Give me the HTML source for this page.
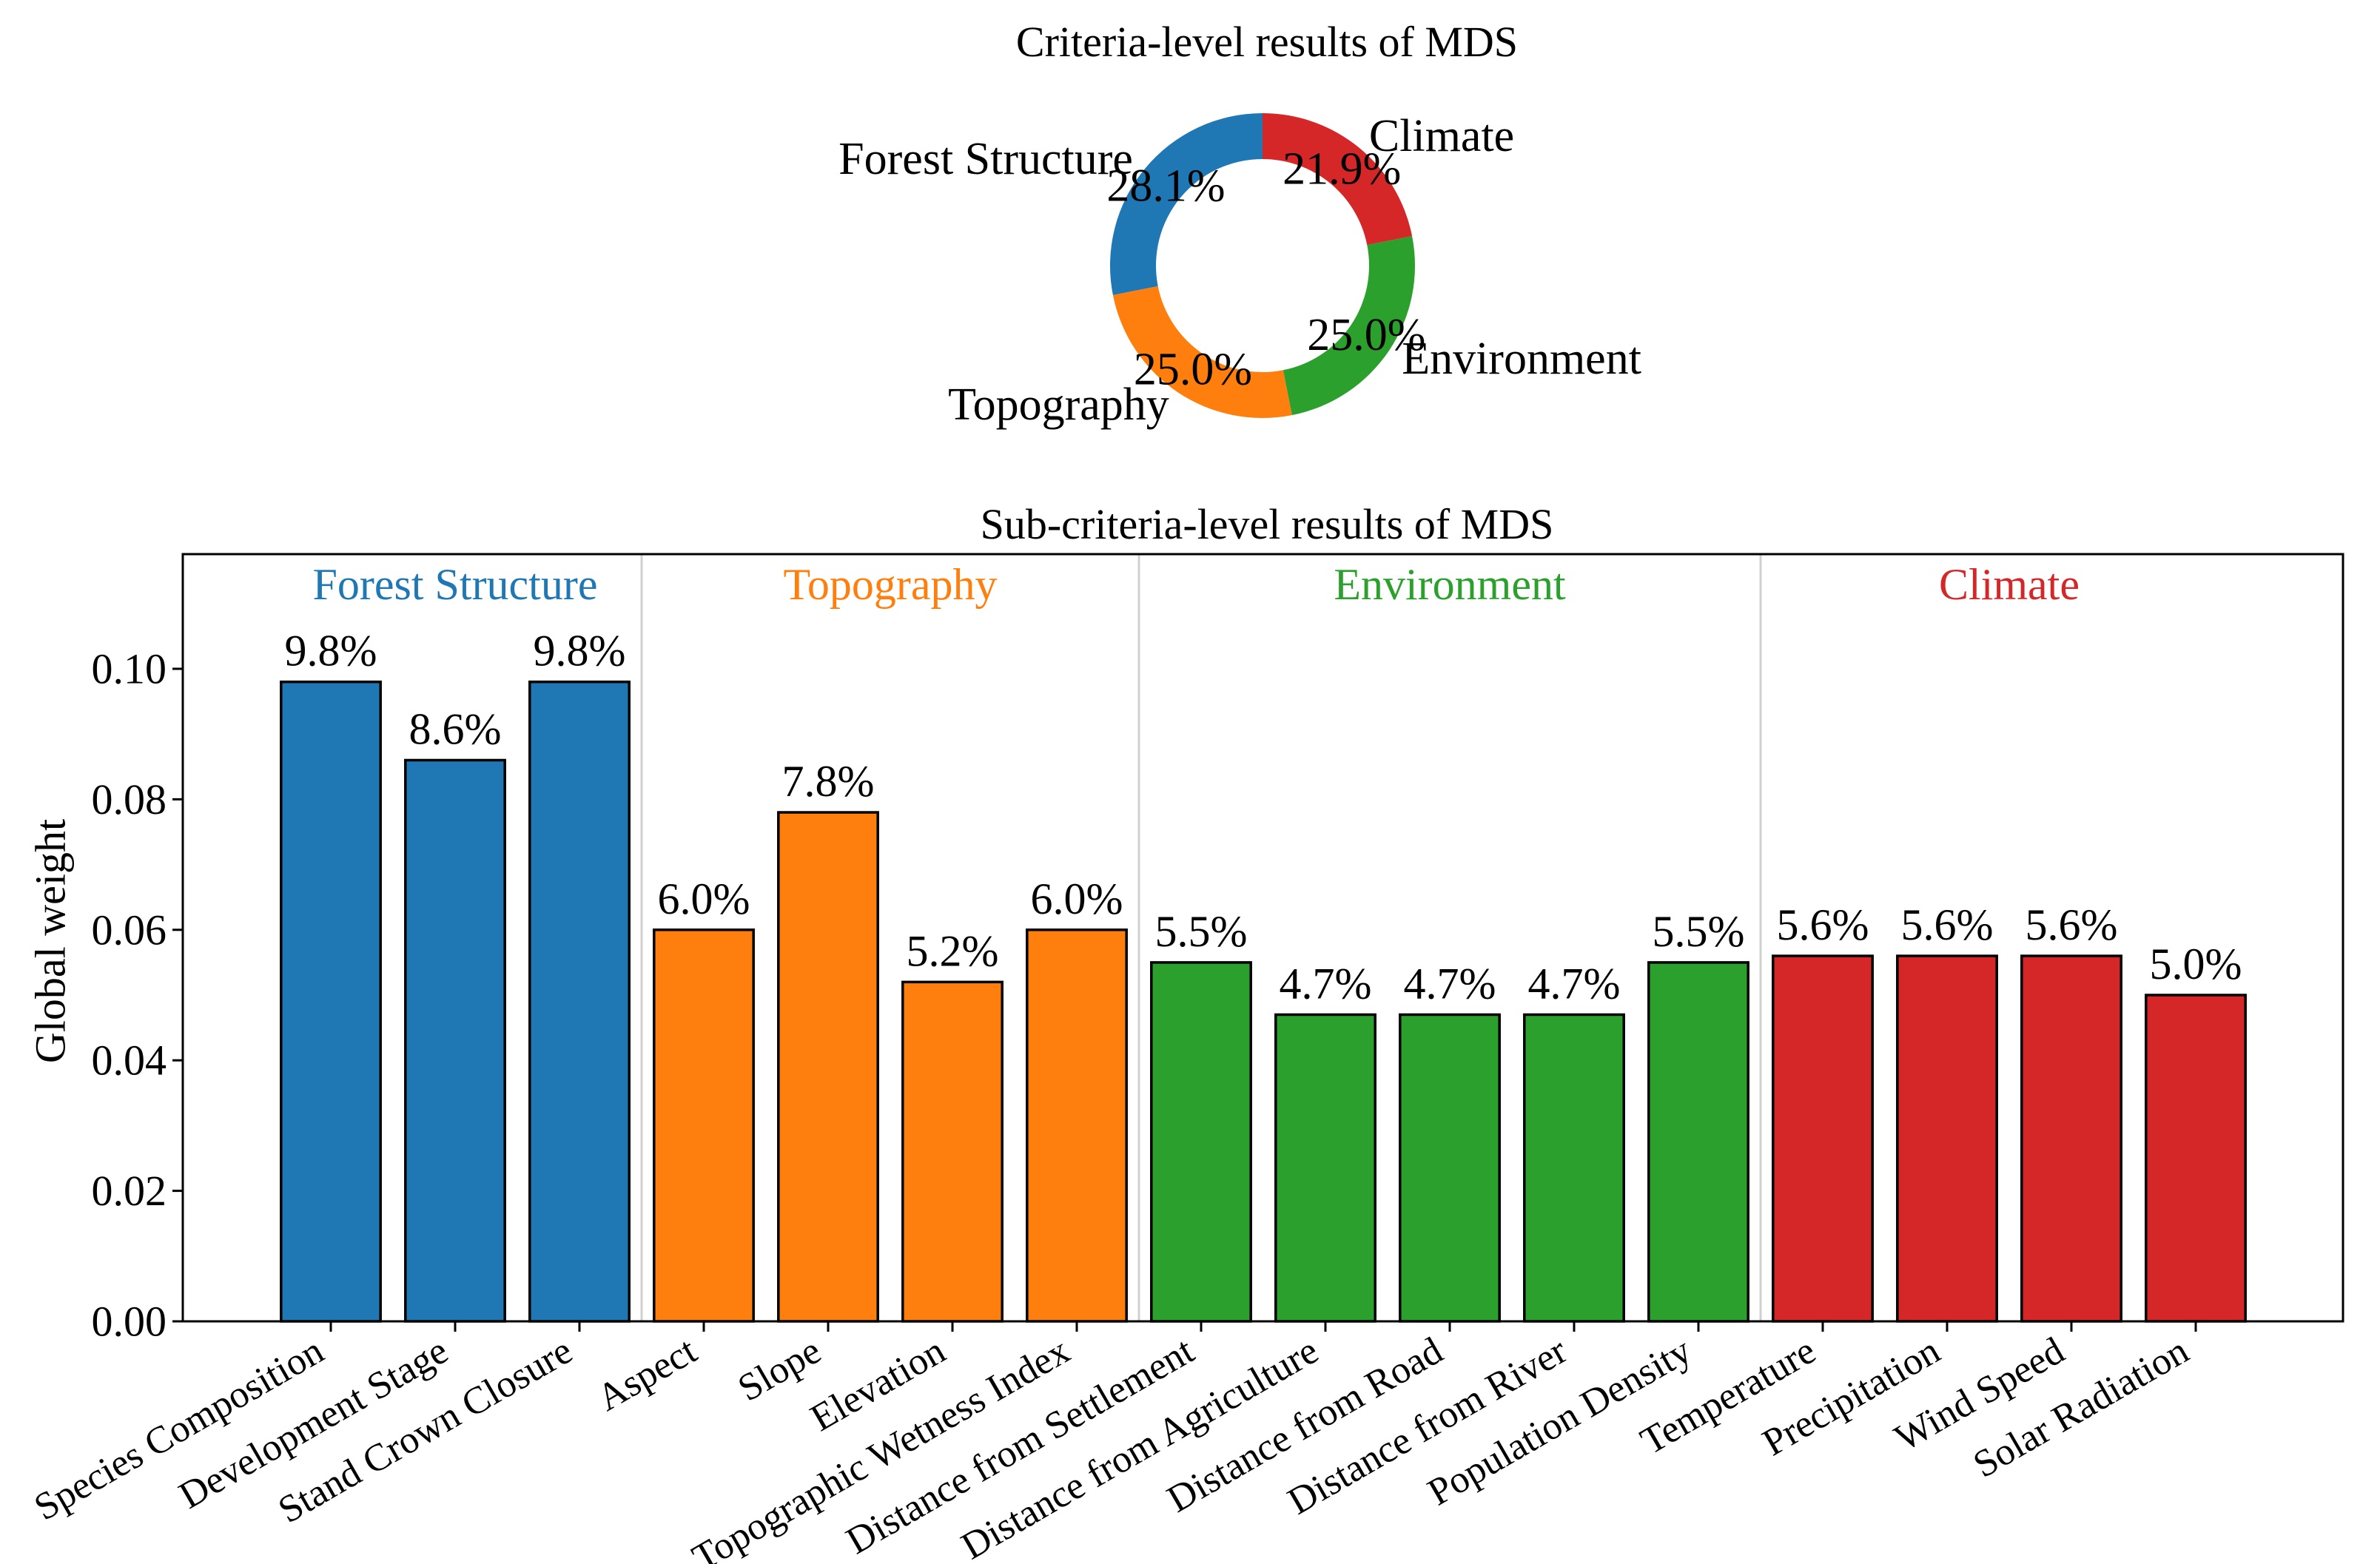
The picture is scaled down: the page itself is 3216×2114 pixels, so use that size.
<!DOCTYPE html>
<html><head><meta charset="utf-8"><style>
html,body{margin:0;padding:0;background:#fff;}
svg{display:block;font-family:"Liberation Serif","Times New Roman",serif;}
</style></head><body>
<svg id="chart" width="3216" height="2114" viewBox="0 0 3216 2114" xmlns="http://www.w3.org/2000/svg">
<text x="1712" y="76" font-size="58" text-anchor="middle">Criteria-level results of MDS</text>
<g id="pie"></g>
<text x="1712" y="728" font-size="58" text-anchor="middle">Sub-criteria-level results of MDS</text>
<g id="bars"></g>
</svg>
<script>
const pieLabels = ["Forest Structure","Topography","Environment","Climate"];
const pieValues = [28.1,25.0,25.0,21.9];
const pieColors = ["#1f77b4","#ff7f0e","#2ca02c","#d62728"];

const barCategories = ["Species Composition","Development Stage","Stand Crown Closure","Aspect","Slope","Elevation","Topographic Wetness Index","Distance from Settlement","Distance from Agriculture","Distance from Road","Distance from River","Population Density","Temperature","Precipitation","Wind Speed","Solar Radiation"];
const barValues = [0.098,0.086,0.098,0.060,0.078,0.052,0.060,0.055,0.047,0.047,0.047,0.055,0.056,0.056,0.056,0.050];
const barLabels = ["9.8%","8.6%","9.8%","6.0%","7.8%","5.2%","6.0%","5.5%","4.7%","4.7%","4.7%","5.5%","5.6%","5.6%","5.6%","5.0%"];
const barGroup = [0,0,0,1,1,1,1,2,2,2,2,2,3,3,3,3];
const groupNames = ["Forest Structure","Topography","Environment","Climate"];
const yTicks = [0,0.02,0.04,0.06,0.08,0.10];
const yTickLabels = ["0.00","0.02","0.04","0.06","0.08","0.10"];

const NS="http://www.w3.org/2000/svg";
function mk(tag,attrs,parent){const e=document.createElementNS(NS,tag);for(const k in attrs)e.setAttribute(k,attrs[k]);parent.appendChild(e);return e;}

const pie=document.getElementById('pie');
const cx=1706,cy=359,R=206,r=144;
let ang=90;
const total=pieValues.reduce((a,b)=>a+b,0);
function pt(a,rad){const t=a*Math.PI/180;return [cx+rad*Math.cos(t),cy-rad*Math.sin(t)];}
pieValues.forEach((v,i)=>{
  const sweep=v/total*360,a0=ang,a1=ang+sweep;
  const p0=pt(a0,R),p1=pt(a1,R),q1=pt(a1,r),q0=pt(a0,r);
  const lg=sweep>180?1:0;
  const d=`M${p0[0]},${p0[1]} A${R},${R} 0 ${lg} 0 ${p1[0]},${p1[1]} L${q1[0]},${q1[1]} A${r},${r} 0 ${lg} 1 ${q0[0]},${q0[1]} Z`;
  const w=mk('path',{d:d,fill:pieColors[i]},pie);
  
  
  const mid=(a0+a1)/2;
  const lp=pt(mid,R*1.1);
  const anchor=Math.cos(mid*Math.PI/180)<0?'end':'start';
  const lt=mk('text',{x:lp[0],y:lp[1],'font-size':62,'text-anchor':anchor,'dominant-baseline':'central'},pie);
  lt.textContent=pieLabels[i];
  
  
  const pp=pt(mid,R*0.82);
  const pt2=mk('text',{x:pp[0],y:pp[1],'font-size':62,'text-anchor':'middle','dominant-baseline':'central'},pie);
  pt2.textContent=v.toFixed(1)+'%';
  
  
  ang=a1;
});

const g=document.getElementById('bars');
const L=247,Rt=3166,T=749,B=1786;
const x0=447,dx=168;
function X(i){return x0+dx*i;}
function Y(v){return B-(v/0.10)*(B-904);}
for(let i=1;i<barGroup.length;i++){
  if(barGroup[i]!==barGroup[i-1]){
    const xd=X(i-0.5);
    const ln=mk('line',{x1:xd,x2:xd,y1:T,y2:B,stroke:'#d0d0d0','stroke-width':3},g);
    
    
  }
}
groupNames.forEach((n,gi)=>{
  const idx=barGroup.map((v,i)=>v===gi?i:-1).filter(i=>i>=0);
  const c=(X(idx[0])+X(idx[idx.length-1]))/2;
  const t=mk('text',{x:c,y:790,'font-size':60,'text-anchor':'middle','dominant-baseline':'central',fill:pieColors[gi]},g);
  t.textContent=n;
  
  
});
const bw=dx*0.8;
barValues.forEach((v,i)=>{
  const b=mk('rect',{x:X(i)-bw/2,y:Y(v),width:bw,height:B-Y(v),fill:pieColors[barGroup[i]],stroke:'#000','stroke-width':3.5},g);
  
  
  const t=mk('text',{x:X(i),y:Y(v)-22,'font-size':60,'text-anchor':'middle'},g);
  t.textContent=barLabels[i];
  
  
  const tk=mk('line',{x1:X(i),x2:X(i),y1:B,y2:B+14,stroke:'#000','stroke-width':3},g);
  
  
  const ax=X(i)-6, ay=B+50;
  const xl=mk('text',{x:ax,y:ay,'font-size':52,'text-anchor':'end',transform:`rotate(-30 ${ax} ${ay})`},g);
  xl.textContent=barCategories[i];
  
  
});
yTicks.forEach((v,i)=>{
  const y=Y(v);
  const tk=mk('line',{x1:L-14,x2:L,y1:y,y2:y,stroke:'#000','stroke-width':3},g);
  
  
  const t=mk('text',{x:L-22,y:y,'font-size':58,'text-anchor':'end','dominant-baseline':'central'},g);
  t.textContent=yTickLabels[i];
  
  
});
const fr=mk('rect',{x:L,y:T,width:Rt-L,height:B-T,fill:'none',stroke:'#000','stroke-width':3},g);


const yl=mk('text',{x:68,y:1272,'font-size':58,'text-anchor':'middle','dominant-baseline':'central',transform:`rotate(-90 68 1272)`},g);
yl.textContent='Global weight';


</script>
</body></html>
